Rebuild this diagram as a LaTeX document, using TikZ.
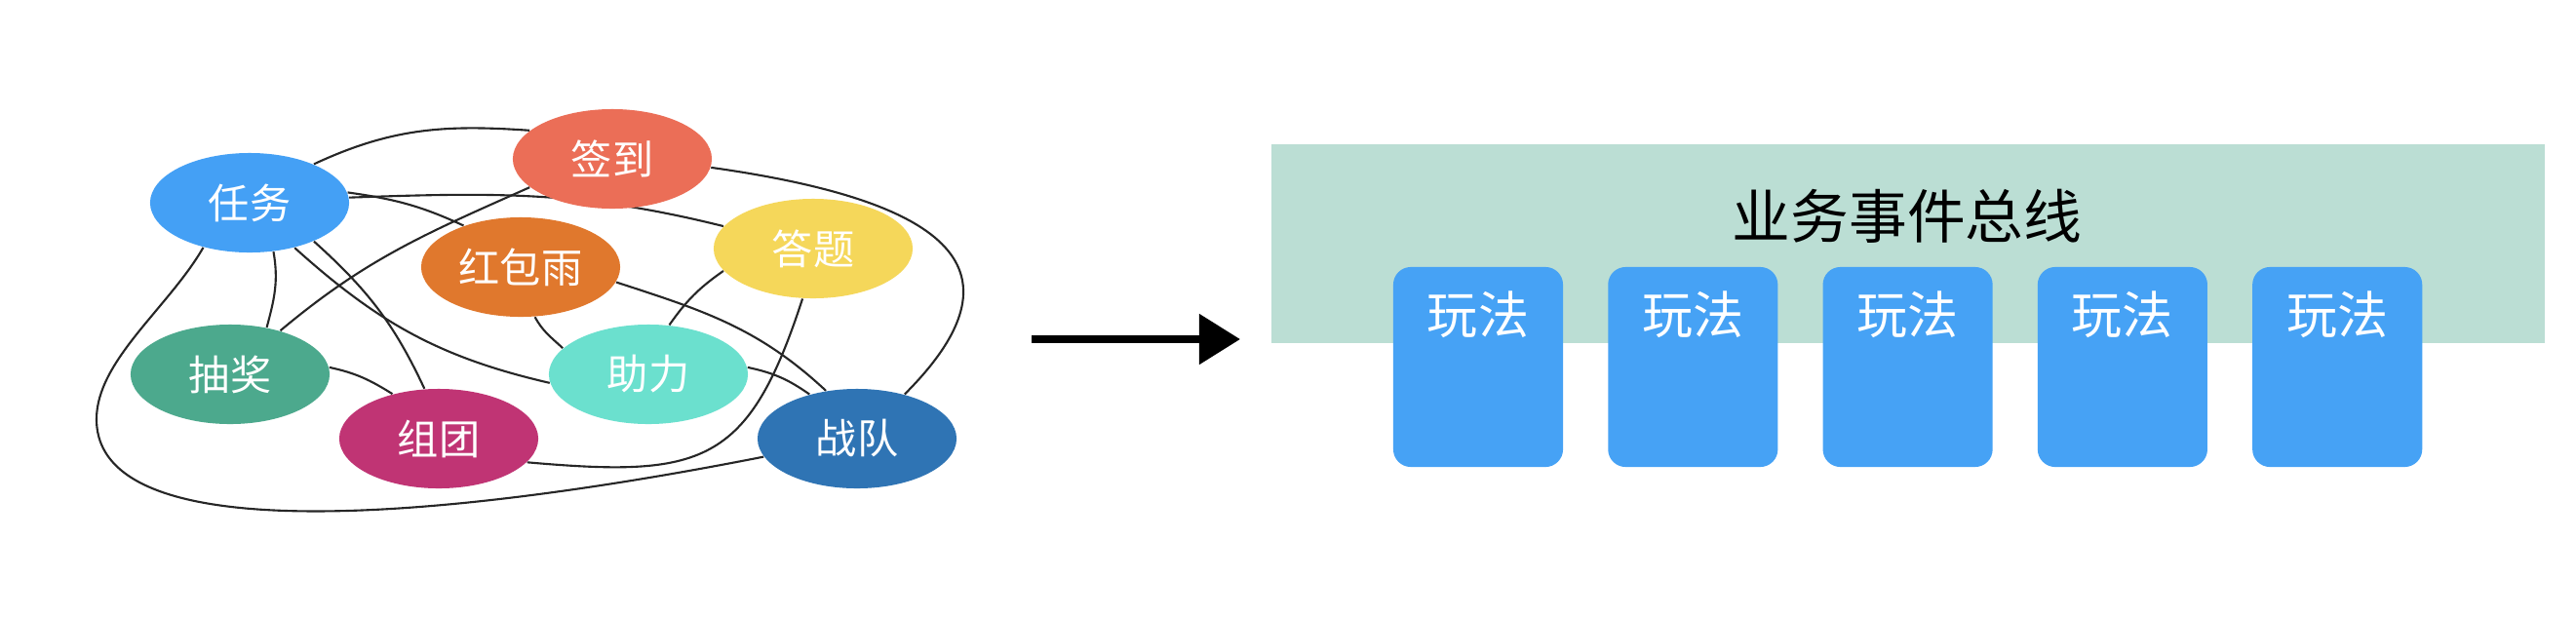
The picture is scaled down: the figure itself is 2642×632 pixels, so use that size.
\documentclass[tikz,border=0pt]{standalone}
\usepackage{fontspec}
\setmainfont{Noto Sans CJK SC}
\usetikzlibrary{shapes.geometric,arrows.meta}
\pgfdeclarelayer{back}
\pgfdeclarelayer{links}
\pgfsetlayers{back,links,main}

\definecolor{renwublue}{HTML}{44A0F5}
\definecolor{qiandaored}{HTML}{EB6E57}
\definecolor{hongbaoorange}{HTML}{E0782D}
\definecolor{datiyellow}{HTML}{F5D75A}
\definecolor{choujianggreen}{HTML}{4CA98D}
\definecolor{zhulicyan}{HTML}{6BE0CE}
\definecolor{zutuanpink}{HTML}{C03474}
\definecolor{zhanduiblue}{HTML}{2F74B4}
\definecolor{busgreen}{HTML}{BBDED4}
\definecolor{playblue}{HTML}{46A2F5}

\begin{document}
\begin{tikzpicture}[x=0.01cm,y=0.01cm,
  game/.style={ellipse,minimum width=2.04cm,minimum height=1.02cm,inner sep=0pt,
    text=white,font=\fontsize{12}{14}\selectfont},
  link/.style={draw=black!85,line width=0.6pt},
  flow/.style={line width=2.3pt,-{Triangle[length=0.42cm,width=0.5cm]}},
  bus/.style={fill=busgreen,minimum width=13.06cm,minimum height=2.04cm,inner sep=0pt},
  bustext/.style={font=\fontsize{17}{20}\selectfont},
  playbox/.style={fill=playblue,rounded corners=0.18cm,minimum width=1.74cm,
    minimum height=2.05cm,inner sep=0pt},
  playtext/.style={text=white,font=\fontsize{14.8}{17}\selectfont}]

  %page
  \begin{pgfonlayer}{back}
    \fill[white] (0,0) rectangle (2642,632);
  \end{pgfonlayer}
  \path[use as bounding box] (0,0) rectangle (2642,632);

  %games
  \node[game,fill=renwublue] (renwu) at (256,424) {任务};
  \node[game,fill=qiandaored] (qiandao) at (628,469) {签到};
  \node[game,fill=hongbaoorange] (hongbaoyu) at (534,358) {红包雨};
  \node[game,fill=datiyellow] (dati) at (834,377) {答题};
  \node[game,fill=choujianggreen] (choujiang) at (236,248) {抽奖};
  \node[game,fill=zhulicyan] (zhuli) at (665,248) {助力};
  \node[game,fill=zutuanpink] (zutuan) at (450,182) {组团};
  \node[game,fill=zhanduiblue] (zhandui) at (879,182) {战队};

  %links
  \begin{pgfonlayer}{links}
    \coordinate (loopleft) at (99,202);
    \draw[link] (renwu.31) to[out=25,in=176] (qiandao.161);
    \draw[link] (renwu.6) to[out=-8,in=155] (hongbaoyu.144);
    \draw[link] (renwu.3) to[out=2,in=166] (dati.166);
    \draw[link] (renwu.224) .. controls +(-35,-61) and +(0,60) .. (loopleft)
      .. controls +(0,-142) and (487,105) .. (zhandui.191);
    \draw[link] (renwu.296) to[out=-80,in=75] (choujiang.52);
    \draw[link] (renwu.315) to[out=-42,in=167] (zhuli.185);
    \draw[link] (renwu.329) to[out=-42,in=115] (zutuan.106);
    \draw[link] (qiandao.199) to[out=204,in=40] (choujiang.41);
    \draw[link] (qiandao.355) to[out=-8,in=45,out looseness=2.1,in looseness=1.5] (zhandui.43);
    \draw[link] (hongbaoyu.351) to[out=-18,in=137] (zhandui.123);
    \draw[link] (hongbaoyu.286) to[out=-62,in=137] (zhuli.163);
    \draw[link] (dati.194) to[out=215,in=55] (zhuli.67);
    \draw[link] (dati.258) to[out=-108,in=-5,looseness=1.4] (zutuan.345);
    \draw[link] (choujiang.4) to[out=-12,in=148] (zutuan.136);
    \draw[link] (zhuli.4) to[out=-12,in=145] (zhandui.137);
  \end{pgfonlayer}

  %arrow
  \coordinate (arrowtail) at (1058,284);
  \coordinate (arrowtip) at (1272,284);
  \draw[flow] (arrowtail) -- (arrowtip);

  %bus
  \node[bus] (bus) at (1957,382) {};
  \node[bustext] (bustitle) at (1956,410) {业务事件总线};
  \foreach \i in {0,...,4} {
    \node[playbox] (play\i) at (1516+220.3*\i,255.5) {};
    \node[playtext] (playtext\i) at ([yshift=-0.49cm]play\i.north) {玩法};
  }
\end{tikzpicture}
\end{document}
